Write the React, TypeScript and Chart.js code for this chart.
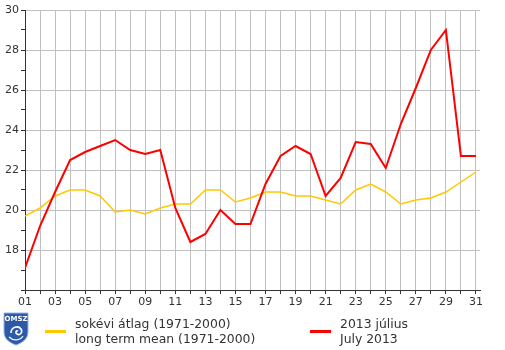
import React, { useEffect, useRef } from "react";
import { Chart, registerables } from "chart.js";

Chart.register(...registerables);

const days = [1, 2, 3, 4, 5, 6, 7, 8, 9, 10, 11, 12, 13, 14, 15, 16, 17, 18, 19, 20, 21, 22, 23, 24, 25, 26, 27, 28, 29, 30, 31];
const july2013 = [17.1, 19.2, 20.9, 22.5, 22.9, 23.2, 23.5, 23.0, 22.8, 23.0, 20.1, 18.4, 18.8, 20.0, 19.3, 19.3, 21.3, 22.7, 23.2, 22.8, 20.7, 21.6, 23.4, 23.3, 22.1, 24.3, 26.1, 28.0, 29.0, 22.7, 22.7];
const longTermMean = [19.7, 20.1, 20.7, 21.0, 21.0, 20.7, 19.9, 20.0, 19.8, 20.1, 20.3, 20.3, 21.0, 21.0, 20.4, 20.6, 20.9, 20.9, 20.7, 20.7, 20.5, 20.3, 21.0, 21.3, 20.9, 20.3, 20.5, 20.6, 20.9, 21.4, 21.9];
const yTicks = [16, 17, 18, 19, 20, 21, 22, 23, 24, 25, 26, 27, 28, 29, 30];
const meanLabel = ["sokévi átlag (1971-2000)", "long term mean (1971-2000)"];
const julyLabel = ["2013 július", "July 2013"];

const FONT = "'DejaVu Sans', Verdana, sans-serif";
const TEXT = "#333333";
const GRID = "#c0c0c0";

export default function App() {
  const ref = useRef<HTMLCanvasElement | null>(null);

  useEffect(() => {
    if (!ref.current) return;
    const chart = new Chart(ref.current, {
      type: "line",
      data: {
        datasets: [
          {
            label: julyLabel.join(" / "),
            data: days.map((d, i) => ({ x: d, y: july2013[i] })),
            borderColor: "#ff0000",
            borderWidth: 2,
            pointRadius: 0,
            tension: 0,
            order: 0,
          },
          {
            label: meanLabel.join(" / "),
            data: days.map((d, i) => ({ x: d, y: longTermMean[i] })),
            borderColor: "#ffc800",
            borderWidth: 1.5,
            pointRadius: 0,
            tension: 0,
            order: 1,
          },
        ],
      },
      options: {
        responsive: false,
        animation: false,
        layout: { padding: { top: 10, right: 25, bottom: 45, left: 0 } },
        plugins: { legend: { display: false }, tooltip: { enabled: false } },
        scales: {
          x: {
            type: "linear",
            min: 1,
            max: 31.27,
            afterBuildTicks: (axis: any) => {
              axis.ticks = days.map((v) => ({ value: v }));
            },
            afterFit: (s: any) => {
              s.height = 15;
            },
            grid: { color: GRID, tickColor: TEXT, tickLength: 4, lineWidth: 1 },
            border: { color: TEXT, width: 1 },
            ticks: {
              autoSkip: false,
              maxRotation: 0,
              padding: 2,
              color: TEXT,
              font: { family: FONT, size: 11 },
              callback: (v: any) => (Number(v) % 2 === 1 ? String(v).padStart(2, "0") : ""),
            },
          },
          y: {
            type: "linear",
            min: 16,
            max: 30,
            afterBuildTicks: (axis: any) => {
              axis.ticks = yTicks.map((v) => ({ value: v }));
            },
            afterFit: (s: any) => {
              s.width = 25;
            },
            grid: {
              color: (ctx: any) => (ctx.tick && ctx.tick.value % 2 === 0 ? GRID : "rgba(0,0,0,0)"),
              tickColor: TEXT,
              tickLength: 4,
            },
            border: { color: TEXT, width: 1 },
            ticks: {
              autoSkip: false,
              padding: 2,
              color: TEXT,
              font: { family: FONT, size: 11 },
              callback: (v: any) => (Number(v) % 2 === 0 && Number(v) > 16 ? String(v) : ""),
            },
          },
        },
      },
    });
    return () => chart.destroy();
  }, []);

  const textStyle: React.CSSProperties = {
    position: "absolute",
    fontFamily: FONT,
    fontSize: 12.4,
    lineHeight: "15px",
    color: TEXT,
    whiteSpace: "nowrap",
  };

  return (
    <div style={{ position: "absolute", left: 0, top: 0, width: 505, height: 350, background: "#fff" }}>
      <canvas ref={ref} width={505} height={350} style={{ display: "block" }} />
      <svg style={{ position: "absolute", left: 3, top: 312 }} width={26} height={34} viewBox="0 0 26 34">
        <path d="M1 1 H25 V20 C25 27 19 31 13 33 C7 31 1 27 1 20 Z" fill="#2c5aa8" stroke="#9bb3dc" strokeWidth="1" />
        <text x="13" y="9" textAnchor="middle" fontFamily={FONT} fontWeight="bold" fontSize="7" fill="#ffffff">OMSZ</text>
        <path d="M8 21 C8 15 15 13 18 17 C20 20 17 24 14 22 C12 21 13 18 15 19" fill="none" stroke="#ffffff" strokeWidth="1.6" />
        <path d="M6 25 C10 29 17 29 20 24" fill="none" stroke="#ffffff" strokeWidth="1.2" />
      </svg>
      <div style={{ position: "absolute", left: 45, top: 330, width: 21, height: 3, background: "#ffc800" }} />
      <div style={{ ...textStyle, left: 75, top: 316 }}>
        <div>{meanLabel[0]}</div>
        <div>{meanLabel[1]}</div>
      </div>
      <div style={{ position: "absolute", left: 310, top: 330, width: 21, height: 3, background: "#ff0000" }} />
      <div style={{ ...textStyle, left: 340, top: 316 }}>
        <div>{julyLabel[0]}</div>
        <div>{julyLabel[1]}</div>
      </div>
    </div>
  );
}
